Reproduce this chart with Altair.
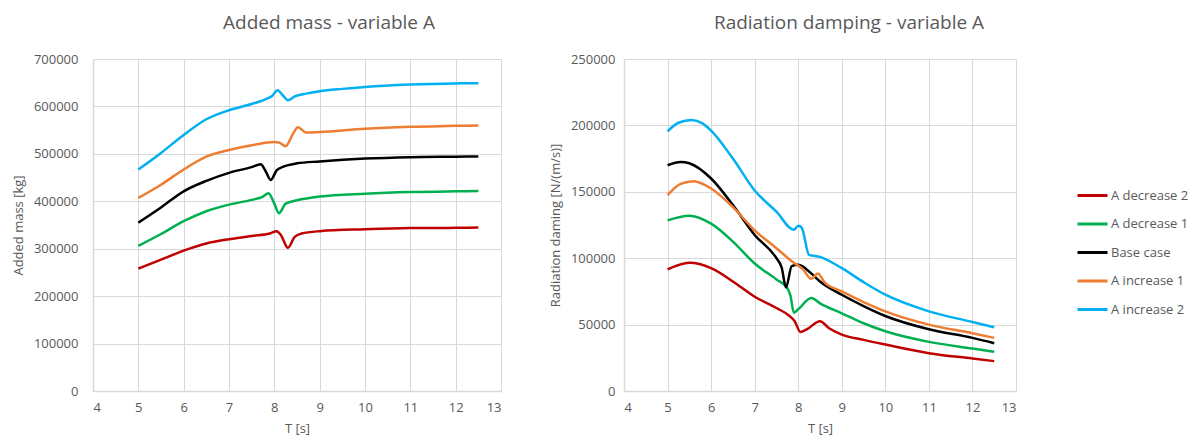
import altair as alt
import pandas as pd

SERIES = ["A decrease 2", "A decrease 1", "Base case", "A increase 1", "A increase 2"]
COLORS = ["#C00000", "#00B050", "#000000", "#ED7D31", "#00B0F0"]

# ---- Added mass [kg] ----
am_dec2_T = [5, 5.5, 6, 6.5, 7, 7.5, 7.9, 8.05, 8.15, 8.3, 8.45, 8.6, 9, 10, 11, 12, 12.5]
am_dec2_v = [258000, 277000, 296000, 311000, 320000, 327000, 332000, 337000, 328000, 302000, 325000, 332000, 337000, 341000, 343500, 344000, 344500]
am_dec1_T = [5, 5.5, 6, 6.5, 7, 7.5, 7.75, 7.87, 8.0, 8.1, 8.25, 8.5, 9, 10, 11, 12, 12.5]
am_dec1_v = [306000, 331000, 358000, 379000, 393000, 403000, 410000, 417000, 395000, 375000, 395000, 402000, 410000, 416000, 419500, 421000, 421500]
am_base_T = [5, 5.5, 6, 6.5, 7, 7.5, 7.7, 7.8, 7.92, 8.05, 8.2, 8.5, 9, 10, 11, 12, 12.5]
am_base_v = [355000, 387000, 421000, 443000, 460000, 472000, 478000, 465000, 445000, 465000, 473000, 480000, 484000, 490000, 493000, 494000, 494500]
am_inc1_T = [5, 5.5, 6, 6.5, 7, 7.5, 8, 8.1, 8.25, 8.4, 8.52, 8.7, 9, 10, 11, 12, 12.5]
am_inc1_v = [407000, 435000, 467000, 494000, 508000, 518000, 525000, 524000, 516000, 540000, 556000, 545000, 546000, 553000, 557000, 559000, 560000]
am_inc2_T = [5, 5.5, 6, 6.5, 7, 7.5, 7.85, 7.95, 8.07, 8.2, 8.3, 8.45, 8.7, 9, 9.5, 10, 11, 12, 12.5]
am_inc2_v = [467000, 502000, 540000, 573000, 592000, 605000, 617000, 622000, 634000, 622000, 613000, 621000, 627000, 632000, 637000, 641000, 646000, 648500, 649000]

# ---- Radiation damping [N/(m/s)] ----
rd_dec2_T = [5, 5.5, 6, 6.5, 7, 7.5, 7.8, 7.92, 8.05, 8.2, 8.5, 8.7, 9, 9.5, 10, 11, 12, 12.5]
rd_dec2_v = [91500, 96500, 92500, 82500, 71000, 62500, 56500, 52500, 44500, 46500, 52500, 47500, 42500, 38500, 35000, 28500, 24500, 22500]
rd_dec1_T = [5, 5.5, 6, 6.5, 7, 7.5, 7.75, 7.82, 7.9, 8.0, 8.3, 8.5, 9, 9.5, 10, 11, 12, 12.5]
rd_dec1_v = [128500, 132000, 126000, 112500, 96000, 84000, 77500, 72000, 59000, 61500, 70000, 66000, 58500, 51000, 45000, 37000, 32000, 29500]
rd_base_T = [5, 5.3, 5.5, 6, 6.5, 7, 7.5, 7.62, 7.72, 7.85, 8.0, 8.3, 8.5, 9, 9.5, 10, 11, 12, 12.5]
rd_base_v = [170000, 172500, 171500, 160000, 140000, 117500, 100000, 93000, 78000, 94000, 95000, 88500, 82500, 72500, 64000, 56500, 46500, 40000, 36000]
rd_inc1_T = [5, 5.3, 5.6, 6, 6.5, 7, 7.5, 7.9, 8.1, 8.3, 8.45, 8.6, 9, 9.5, 10, 11, 12, 12.5]
rd_inc1_v = [147500, 156000, 158000, 152500, 138500, 121000, 107500, 96500, 92000, 84500, 88500, 82000, 75000, 67000, 60000, 50000, 43500, 40000]
rd_inc2_T = [5, 5.25, 5.55, 5.8, 6, 6.5, 7, 7.5, 7.9, 8.0, 8.08, 8.25, 8.5, 9, 9.5, 10, 11, 12, 12.5]
rd_inc2_v = [195500, 202000, 204000, 201500, 196000, 175000, 151000, 135000, 121500, 124500, 123000, 102500, 101000, 92500, 82000, 72500, 60000, 52000, 48000]

X_TICKS = [4, 5, 6, 7, 8, 9, 10, 11, 12, 13]
AM_TICKS = [0, 100000, 200000, 300000, 400000, 500000, 600000, 700000]
RD_TICKS = [0, 50000, 100000, 150000, 200000, 250000]


def long_df(pairs):
    rows = []
    for name, (ts, vs) in zip(SERIES, pairs):
        for t, v in zip(ts, vs):
            rows.append({"series": name, "T": t, "v": v})
    return pd.DataFrame(rows)


am_df = long_df([(am_dec2_T, am_dec2_v), (am_dec1_T, am_dec1_v), (am_base_T, am_base_v),
                 (am_inc1_T, am_inc1_v), (am_inc2_T, am_inc2_v)])
rd_df = long_df([(rd_dec2_T, rd_dec2_v), (rd_dec1_T, rd_dec1_v), (rd_base_T, rd_base_v),
                 (rd_inc1_T, rd_inc1_v), (rd_inc2_T, rd_inc2_v)])

TEXT = "#595959"
GRID = "#D9D9D9"
FONT = "Open Sans"

color = alt.Color(
    "series:N",
    scale=alt.Scale(domain=SERIES, range=COLORS),
    legend=alt.Legend(
        title=None, orient="none", legendX=983, legendY=120,
        symbolType="stroke", symbolSize=900, symbolStrokeWidth=3,
        labelFontSize=13, labelColor=TEXT, labelFont=FONT,
        rowPadding=4.5, labelOffset=2,
    ),
)


def panel(df, ticks, ymax, ytitle, title, w, lpad, dx):
    return alt.Chart(df).mark_line(interpolate="monotone", strokeWidth=2.5).encode(
        x=alt.X("T:Q", scale=alt.Scale(domain=[4, 13], nice=False, zero=False),
                axis=alt.Axis(values=X_TICKS, title="T [s]", labelPadding=10, titlePadding=8)),
        y=alt.Y("v:Q", scale=alt.Scale(domain=[0, ymax], nice=False),
                axis=alt.Axis(values=ticks, format="d", title=ytitle, labelPadding=lpad, titlePadding=8)),
        color=color,
        order=alt.Order("series:N"),
    ).properties(
        width=w, height=332,
        title=alt.TitleParams(title, frame="group", anchor="middle", dx=dx, fontSize=19,
                              color=TEXT, font=FONT, fontWeight="normal", offset=20),
    )


left = panel(am_df, AM_TICKS, 700000, "Added mass [kg]", "Added mass - variable A", 408, 15, 32)
right = panel(rd_df, RD_TICKS, 250000, "Radiation daming [N/(m/s)]", "Radiation damping - variable A", 392, 9, 29)

chart = alt.hconcat(left, right, spacing=123, bounds="flush").configure(
    padding={"left": 12, "top": 14, "right": 0, "bottom": 0},
    background="white",
).configure_view(stroke=None).configure_axis(
    labelFont=FONT, titleFont=FONT, labelFontSize=13, titleFontSize=13,
    labelColor=TEXT, titleColor=TEXT, titleFontWeight="normal",
    gridColor=GRID, gridWidth=1, domainColor=GRID, domainWidth=1.5,
    ticks=False, tickSize=0,
)

chart.save("out.html", embed_options={"renderer": "svg", "actions": False})
